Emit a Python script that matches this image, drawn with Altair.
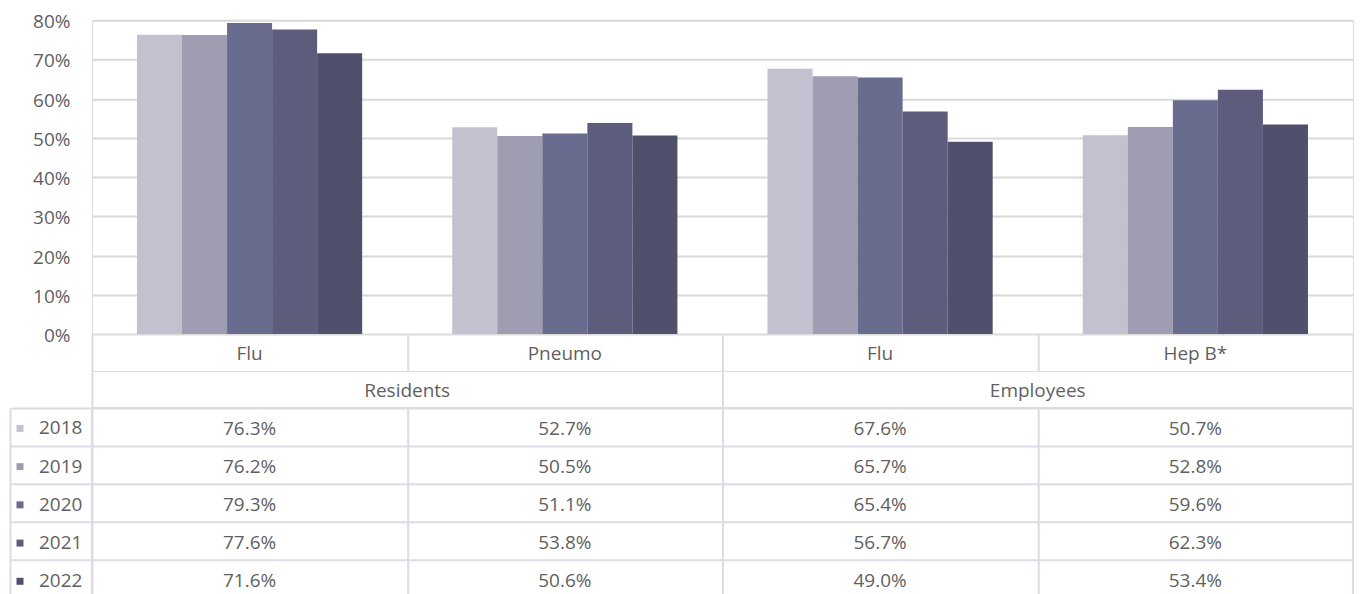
import altair as alt
import pandas as pd

groups = ["Residents", "Residents", "Employees", "Employees"]
vaccines = ["Flu", "Pneumo", "Flu", "Hep B*"]
years = ["2018", "2019", "2020", "2021", "2022"]
rate_2018 = [76.3, 52.7, 67.6, 50.7]
rate_2019 = [76.2, 50.5, 65.7, 52.8]
rate_2020 = [79.3, 51.1, 65.4, 59.6]
rate_2021 = [77.6, 53.8, 56.7, 62.3]
rate_2022 = [71.6, 50.6, 49.0, 53.4]
y_ticks = [0, 0.1, 0.2, 0.3, 0.4, 0.5, 0.6, 0.7, 0.8]
year_colors = ["#c2c1cf", "#9e9db2", "#696b8f", "#5d5c7c", "#504f6c"]

cols = [f"{g}|{v}" for g, v in zip(groups, vaccines)]
series = [rate_2018, rate_2019, rate_2020, rate_2021, rate_2022]
rows = []
for yr, vals in zip(years, series):
    for c, g, v, val in zip(cols, groups, vaccines, vals):
        rows.append({"col": c, "group": g, "vaccine": v, "year": yr, "value": val / 100})
df = pd.DataFrame(rows)
hdr = pd.DataFrame({"col": cols, "vaccine": vaccines})
grp_unique = list(dict.fromkeys(groups))
grp = pd.DataFrame({"group": grp_unique})

FONT = "Open Sans"
TXT = "#5f5f5f"
BORDER = "#dcdbe6"
GRID = "#d9d9d9"
BW = 2
W = 1262
FS = 19

col_scale = alt.Scale(paddingInner=0, paddingOuter=0)

bars = alt.Chart(df).mark_bar().encode(
    x=alt.X("col:N", sort=cols, scale=col_scale, axis=None),
    xOffset=alt.XOffset("year:N", sort=years, scale=alt.Scale(paddingOuter=1, paddingInner=0)),
    y=alt.Y("value:Q", scale=alt.Scale(domain=[0, 0.8], nice=False),
            axis=alt.Axis(values=y_ticks, format=".0%", title=None, domain=False, ticks=False,
                          labelPadding=22, labelOffset=1.5, labelFontSize=FS, labelColor=TXT,
                          labelFont=FONT, gridColor=GRID, gridWidth=2)),
    color=alt.Color("year:N", sort=years, scale=alt.Scale(domain=years, range=year_colors),
                    legend=alt.Legend(orient="none", legendX=-81.5, legendY=399, direction="vertical",
                                      title=None, symbolType="square", symbolSize=49,
                                      symbolStrokeWidth=0, labelFontSize=FS, labelColor=TXT,
                                      labelFont=FONT, labelOffset=9.5, rowPadding=18.25, padding=0)),
).properties(width=W, height=314)

b1 = alt.Chart(hdr).mark_text(font=FONT, fontSize=FS, color=TXT, dy=2).encode(
    x=alt.X("col:N", sort=cols, scale=col_scale,
            axis=alt.Axis(title=None, labels=False, ticks=False, domain=False, grid=True,
                          tickBand="extent", gridColor=BORDER, gridWidth=BW)),
    text="vaccine:N",
).properties(width=W, height=37)

b2 = alt.Chart(grp).mark_text(font=FONT, fontSize=FS, color=TXT, dy=2).encode(
    x=alt.X("group:N", sort=grp_unique, scale=col_scale,
            axis=alt.Axis(title=None, labels=False, ticks=False, domain=False, grid=True,
                          tickBand="extent", gridColor=BORDER, gridWidth=BW)),
    text="group:N",
).properties(width=W, height=37)

cell_text = alt.Chart(df).mark_text(font=FONT, fontSize=FS, color=TXT, dy=2).encode(
    x=alt.X("col:N", sort=cols, scale=col_scale,
            axis=alt.Axis(title=None, labels=False, ticks=False, domain=False, grid=True,
                          tickBand="extent", gridColor=BORDER, gridWidth=BW)),
    y=alt.Y("year:N", sort=years, scale=alt.Scale(paddingInner=0, paddingOuter=0),
            axis=alt.Axis(orient="left", title=None, domain=False, tickBand="extent",
                          ticks=True, tickSize=82, tickColor=BORDER, tickWidth=BW,
                          grid=True, gridColor=BORDER, gridWidth=BW, labels=False)),
    text=alt.Text("value:Q", format=".1%"),
)

left_border = alt.Chart(df).mark_text(opacity=0).encode(
    y=alt.Y("year:N", sort=years,
            axis=alt.Axis(orient="left", offset=82, title=None, domain=True, domainColor=BORDER,
                          domainWidth=BW, labels=False, ticks=False, grid=False)),
    text="year:N",
)

table = alt.layer(cell_text, left_border).resolve_axis(y="independent").properties(
    width=W, height=190, view=alt.ViewBackground(stroke=BORDER, strokeWidth=BW)
)

chart = alt.vconcat(bars, b1, b2, table, spacing=0, bounds="flush").properties(
    padding={"left": 0, "top": 4, "right": 0, "bottom": 0}
).configure_view(stroke=None).configure(font=FONT)

chart.save("out.html", embed_options={"renderer": "svg", "actions": False})
